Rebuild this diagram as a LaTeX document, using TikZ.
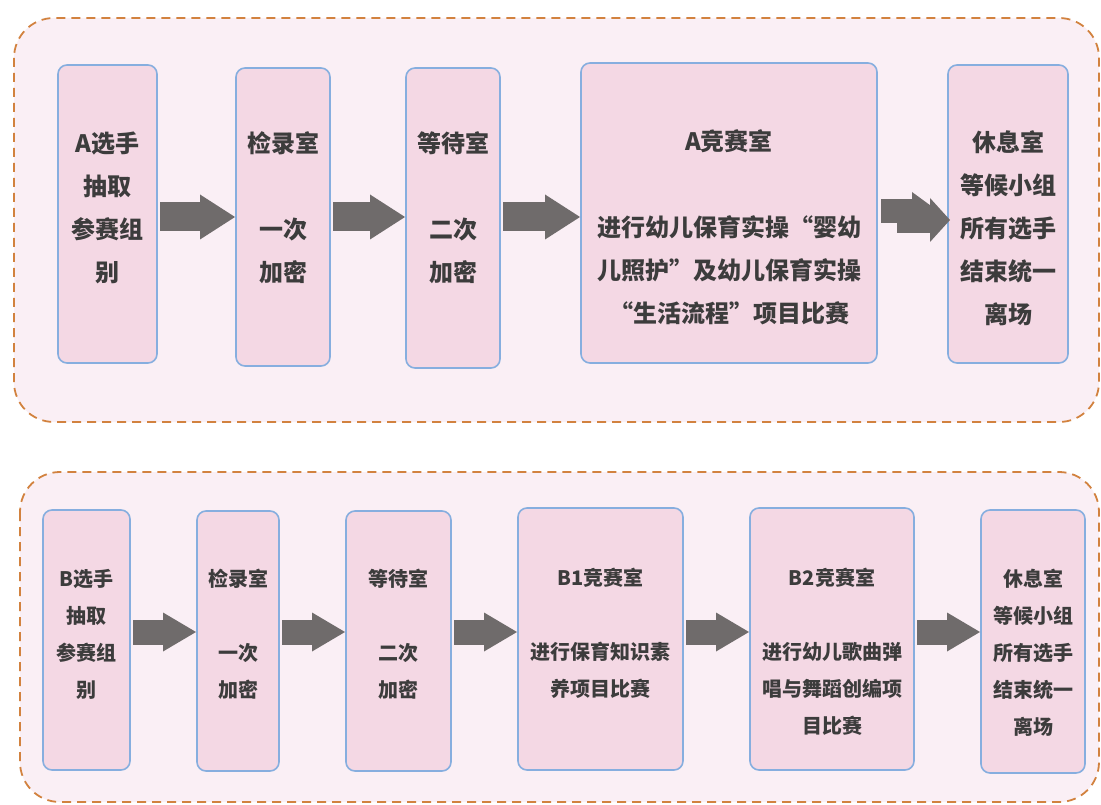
\documentclass[tikz,border=0pt]{standalone}
\usepackage{fontspec}
\setmainfont{Noto Sans CJK SC}
\usetikzlibrary{arrows.meta,calc}
\definecolor{panelfill}{HTML}{FAEFF5}
\definecolor{paneldash}{HTML}{D2823F}
\definecolor{boxfill}{HTML}{F4D8E4}
\definecolor{boxline}{HTML}{86AEDF}
\definecolor{arrowgray}{HTML}{6F6B6B}
\definecolor{textgray}{HTML}{3C3C3C}
\tikzset{
  panel/.style={draw=paneldash, fill=panelfill, line width=1.8pt, dash pattern=on 9pt off 6pt, rounded corners=40pt},
  roombox/.style={draw=boxline, fill=boxfill, line width=1.6pt, rounded corners=9pt, inner sep=0pt, outer sep=0pt},
  toptext/.style={text=textgray, align=center, font=\bfseries\fontsize{24}{43}\selectfont},
  bottext/.style={text=textgray, align=center, font=\bfseries\fontsize{20}{37}\selectfont},
  bigA/.style={draw=arrowgray, line width=29pt, shorten <=3pt, shorten >=1pt,
    -{Triangle[length=35pt 0 0, width=45pt 0 0, line width=0pt]}},
  bigB/.style={draw=arrowgray, line width=25pt, shorten <=3pt, shorten >=1pt,
    -{Triangle[length=33pt 0 0, width=39pt 0 0, line width=0pt]}},
}
\begin{document}
\begin{tikzpicture}[x=1pt,y=-1pt]
\useasboundingbox (0,0) rectangle (1101,805);
\fill[white] (0,0) rectangle (1101,805);
% panels
\draw[panel] (14,18) rectangle (1099,422);
\draw[panel] (20,472) rectangle (1099,802);

% top row boxes
\node[roombox, minimum width=99, minimum height=298] (a1) at (107.5,214) {};
\node[roombox, minimum width=94, minimum height=298] (a2) at (283,217) {};
\node[roombox, minimum width=94, minimum height=300] (a3) at (453,218) {};
\node[roombox, minimum width=296, minimum height=300] (a4) at (729,213) {};
\node[roombox, minimum width=120, minimum height=298] (a5) at (1008,214) {};

\node[toptext] (ta1) at (107.5,207.5) {A选手\\抽取\\参赛组\\别};
\node[toptext] (ta2) at (283,207.5) {检录室\\\mbox{}\\一次\\加密};
\node[toptext] (ta3) at (453,207.5) {等待室\\\mbox{}\\二次\\加密};
\node[toptext] (ta4) at (729,227.5) {A竞赛室\\\mbox{}\\进行幼儿保育实操“婴幼\\儿照护”及幼儿保育实操\\“生活流程”项目比赛};
\node[toptext] (ta5) at (1008,228) {休息室\\等候小组\\所有选手\\结束统一\\离场};

\draw[bigA] (a1.east |- 0,217) -- (a2.west |- 0,217);
\draw[bigA] (a2.east |- 0,217) -- (a3.west |- 0,217);
\draw[bigA] (a3.east |- 0,217) -- (a4.west |- 0,217);
% double arrow
\coordinate (dstart) at (897,220);
\draw[draw=arrowgray, line width=26pt, shorten >=-2pt,
  -{Triangle[length=20pt 0 0, width=44pt 0 0, line width=0pt]}] (dstart) -- (a5.west |- 0,220);
\draw[draw=arrowgray, line width=24pt, shorten <=4pt, shorten >=10pt,
  -{Triangle[length=26pt 0 0, width=38pt 0 0, line width=0pt]}] (a4.east |- 0,211) -- (a5.west |- 0,211);

% bottom row boxes
\node[roombox, minimum width=87, minimum height=260] (b1) at (86.5,640) {};
\node[roombox, minimum width=82, minimum height=260] (b2) at (238,641) {};
\node[roombox, minimum width=105, minimum height=260] (b3) at (398.5,641) {};
\node[roombox, minimum width=165, minimum height=262] (b4) at (600.5,639) {};
\node[roombox, minimum width=164, minimum height=262] (b5) at (832,639) {};
\node[roombox, minimum width=104, minimum height=263] (b6) at (1033,641.5) {};

\node[bottext] (tb1) at (86.5,634) {B选手\\抽取\\参赛组\\别};
\node[bottext] (tb2) at (238,634) {检录室\\\mbox{}\\一次\\加密};
\node[bottext] (tb3) at (398.5,634) {等待室\\\mbox{}\\二次\\加密};
\node[bottext] (tb4) at (600.5,633) {B1竞赛室\\\mbox{}\\进行保育知识素\\养项目比赛};
\node[bottext] (tb5) at (832,651.5) {B2竞赛室\\\mbox{}\\进行幼儿歌曲弹\\唱与舞蹈创编项\\目比赛};
\node[bottext] (tb6) at (1033,652.5) {休息室\\等候小组\\所有选手\\结束统一\\离场};

\draw[bigB] (b1.east |- 0,632) -- (b2.west |- 0,632);
\draw[bigB] (b2.east |- 0,632) -- (b3.west |- 0,632);
\draw[bigB] (b3.east |- 0,632) -- (b4.west |- 0,632);
\draw[bigB] (b4.east |- 0,632) -- (b5.west |- 0,632);
\draw[bigB] (b5.east |- 0,632) -- (b6.west |- 0,632);
\end{tikzpicture}
\end{document}
